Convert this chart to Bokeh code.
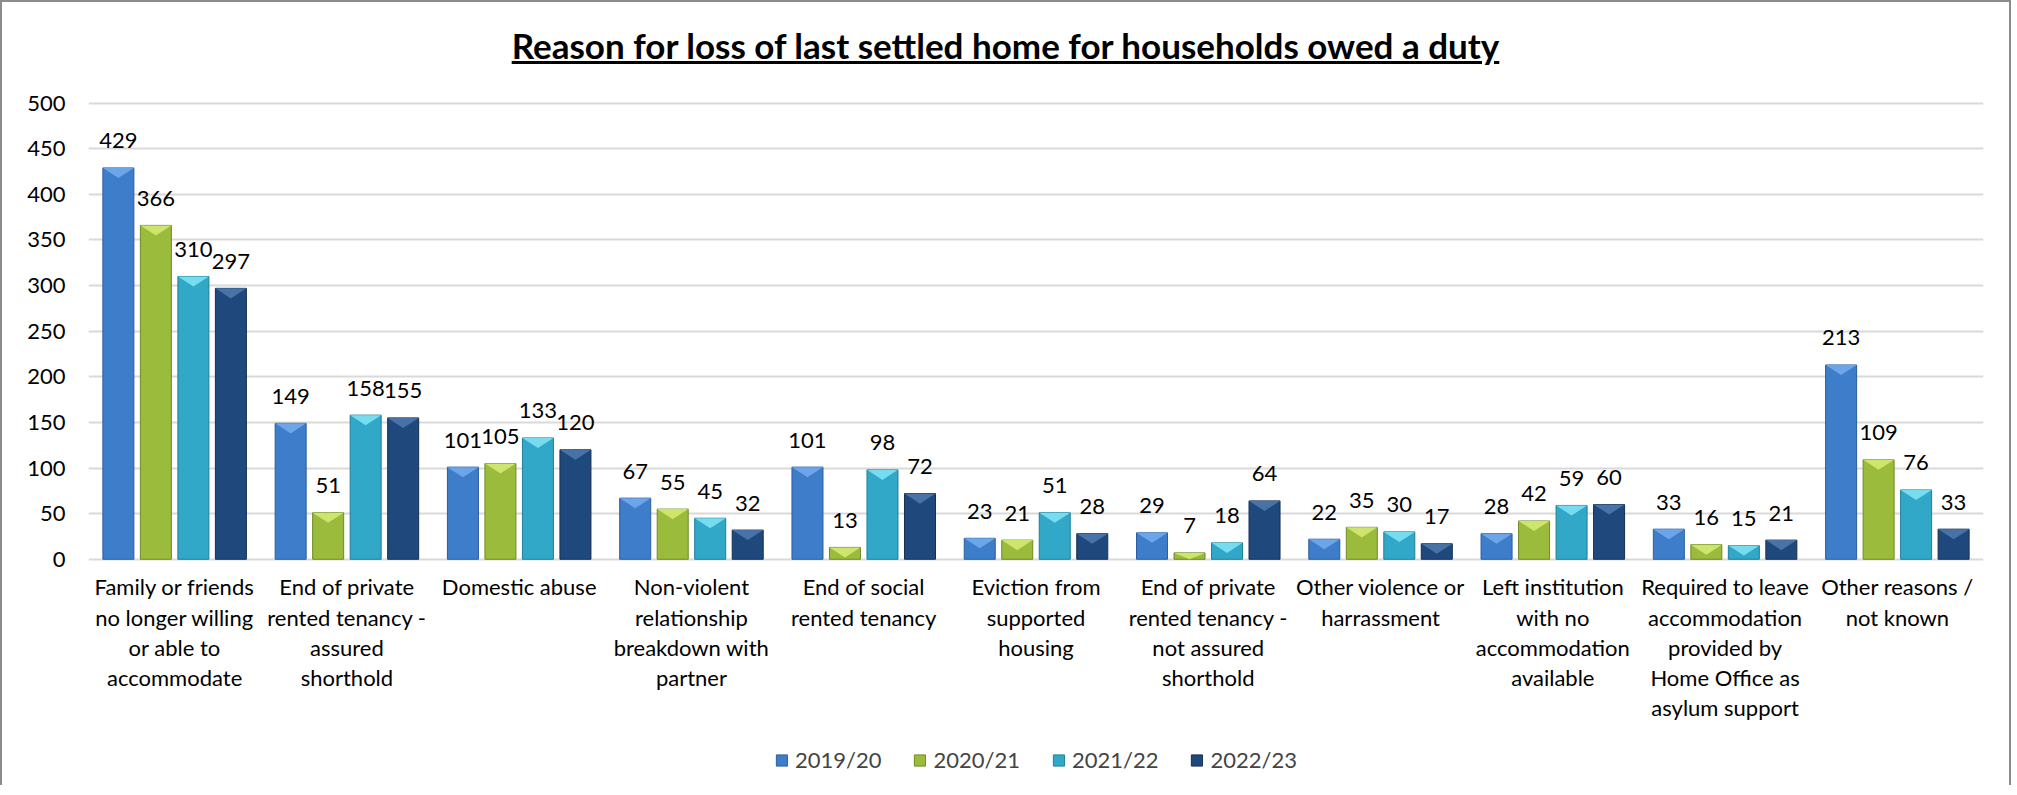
from bokeh.plotting import figure
from bokeh.models import Range1d, FixedTicker, Legend, LegendItem, ColumnDataSource, Div
from bokeh.layouts import column
from bokeh.core.properties import value
from bokeh.embed import file_html
from bokeh.resources import INLINE

# ---------------- data ----------------
categories = [
    "Family or friends\nno longer willing\nor able to\naccommodate",
    "End of private\nrented tenancy -\nassured\nshorthold",
    "Domestic abuse",
    "Non-violent\nrelationship\nbreakdown with\npartner",
    "End of social\nrented tenancy",
    "Eviction from\nsupported\nhousing",
    "End of private\nrented tenancy -\nnot assured\nshorthold",
    "Other violence or\nharrassment",
    "Left institution\nwith no\naccommodation\navailable",
    "Required to leave\naccommodation\nprovided by\nHome Office as\nasylum support",
    "Other reasons /\nnot known",
]
years = ["2019/20", "2020/21", "2021/22", "2022/23"]
v_2019 = [429, 149, 101, 67, 101, 23, 29, 22, 28, 33, 213]
v_2020 = [366, 51, 105, 55, 13, 21, 7, 35, 42, 16, 109]
v_2021 = [310, 158, 133, 45, 98, 51, 18, 30, 59, 15, 76]
v_2022 = [297, 155, 120, 32, 72, 28, 64, 17, 60, 21, 33]
y_ticks = [0, 50, 100, 150, 200, 250, 300, 350, 400, 450, 500]
title_text = "Reason for loss of last settled home for households owed a duty"

series = [v_2019, v_2020, v_2021, v_2022]
base_colors = ["#3D7DCA", "#9BBB3C", "#31A8C8", "#1F497D"]
edge_colors = ["#2A5E9E", "#6F8A25", "#1F7F99", "#142F52"]
cap_colors = ["#72AAEE", "#D3E972", "#7EE2F4", "#4C78AC"]

FONT = "Lato"
FS = "22px"
slot = 0.2177
bar_w = 0.18
cap_units = 11.0

p = figure(
    frame_width=1895, frame_height=690,
    x_range=Range1d(-0.5, 10.5), y_range=Range1d(-248.0, 508.4),
    output_backend="svg", toolbar_location=None,
    min_border_left=86, min_border_right=16, min_border_top=8, min_border_bottom=0,
)
p.outline_line_color = None
p.background_fill_color = "white"
p.border_fill_color = "white"

p.xgrid.visible = False
p.ygrid.grid_line_color = "#d9d9d9"
p.ygrid.grid_line_width = 2
p.ygrid.ticker = FixedTicker(ticks=y_ticks)

p.yaxis.ticker = FixedTicker(ticks=y_ticks)
p.yaxis.axis_line_color = None
p.yaxis.major_tick_line_color = None
p.yaxis.minor_tick_line_color = None
p.yaxis.major_label_text_font = FONT
p.yaxis.major_label_text_font_size = FS
p.yaxis.major_label_text_color = "black"
p.yaxis.major_label_standoff = 17

p.xaxis.visible = False

# category labels beneath the baseline
cat_src = ColumnDataSource(dict(x=list(range(len(categories))), y=[0] * len(categories), t=categories))
p.text(x="x", y="y", text="t", source=cat_src, text_font=value(FONT), text_font_size=FS,
       text_align="center", text_baseline="top", text_line_height=1.12, y_offset=14,
       text_color="black")

items = []
for k, (vals, yr) in enumerate(zip(series, years)):
    off = (k - 1.5) * slot
    xs = [i + off for i in range(len(vals))]
    src = ColumnDataSource(dict(x=xs, top=vals, lbl=[str(v) for v in vals]))
    r = p.vbar(x="x", top="top", bottom=0, width=bar_w, source=src,
               fill_color=base_colors[k], line_color=edge_colors[k], line_width=1)
    # lighter bevel cap on top of each bar (derived from the data)
    cxs, cys = [], []
    for x, v in zip(xs, vals):
        h = min(cap_units, v)
        cxs.append([x - bar_w / 2, x + bar_w / 2, x])
        cys.append([v, v, v - h])
    p.patches(xs=cxs, ys=cys, fill_color=cap_colors[k], fill_alpha=0.9, line_color=None)
    p.text(x="x", y="top", text="lbl", source=src, text_font=value(FONT),
           text_font_size=FS, text_align="center", text_baseline="middle",
           y_offset=-27, text_color="black")
    items.append(LegendItem(label=yr, renderers=[r]))

legend = Legend(items=items, orientation="horizontal", location="bottom_center",
                label_text_font=FONT, label_text_font_size="22px",
                glyph_width=14, glyph_height=14, label_standoff=7, spacing=31,
                border_line_color=None, background_fill_alpha=0, padding=0, margin=12)
p.add_layout(legend)

title = Div(
    text=('<div style="display:block;width:1997px;margin:0;padding-top:18px;text-align:center;'
          'font-family:Lato;font-weight:bold;font-size:35px;line-height:40px;'
          'text-decoration:underline;color:black;">' + title_text + '</div>'),
    width=1997, height=75,
)

layout = column(title, p, styles={"border": "2px solid #8c8c8c", "border-bottom": "none",
                                  "background-color": "white"})

open("out.html", "w").write(file_html(layout, INLINE))
